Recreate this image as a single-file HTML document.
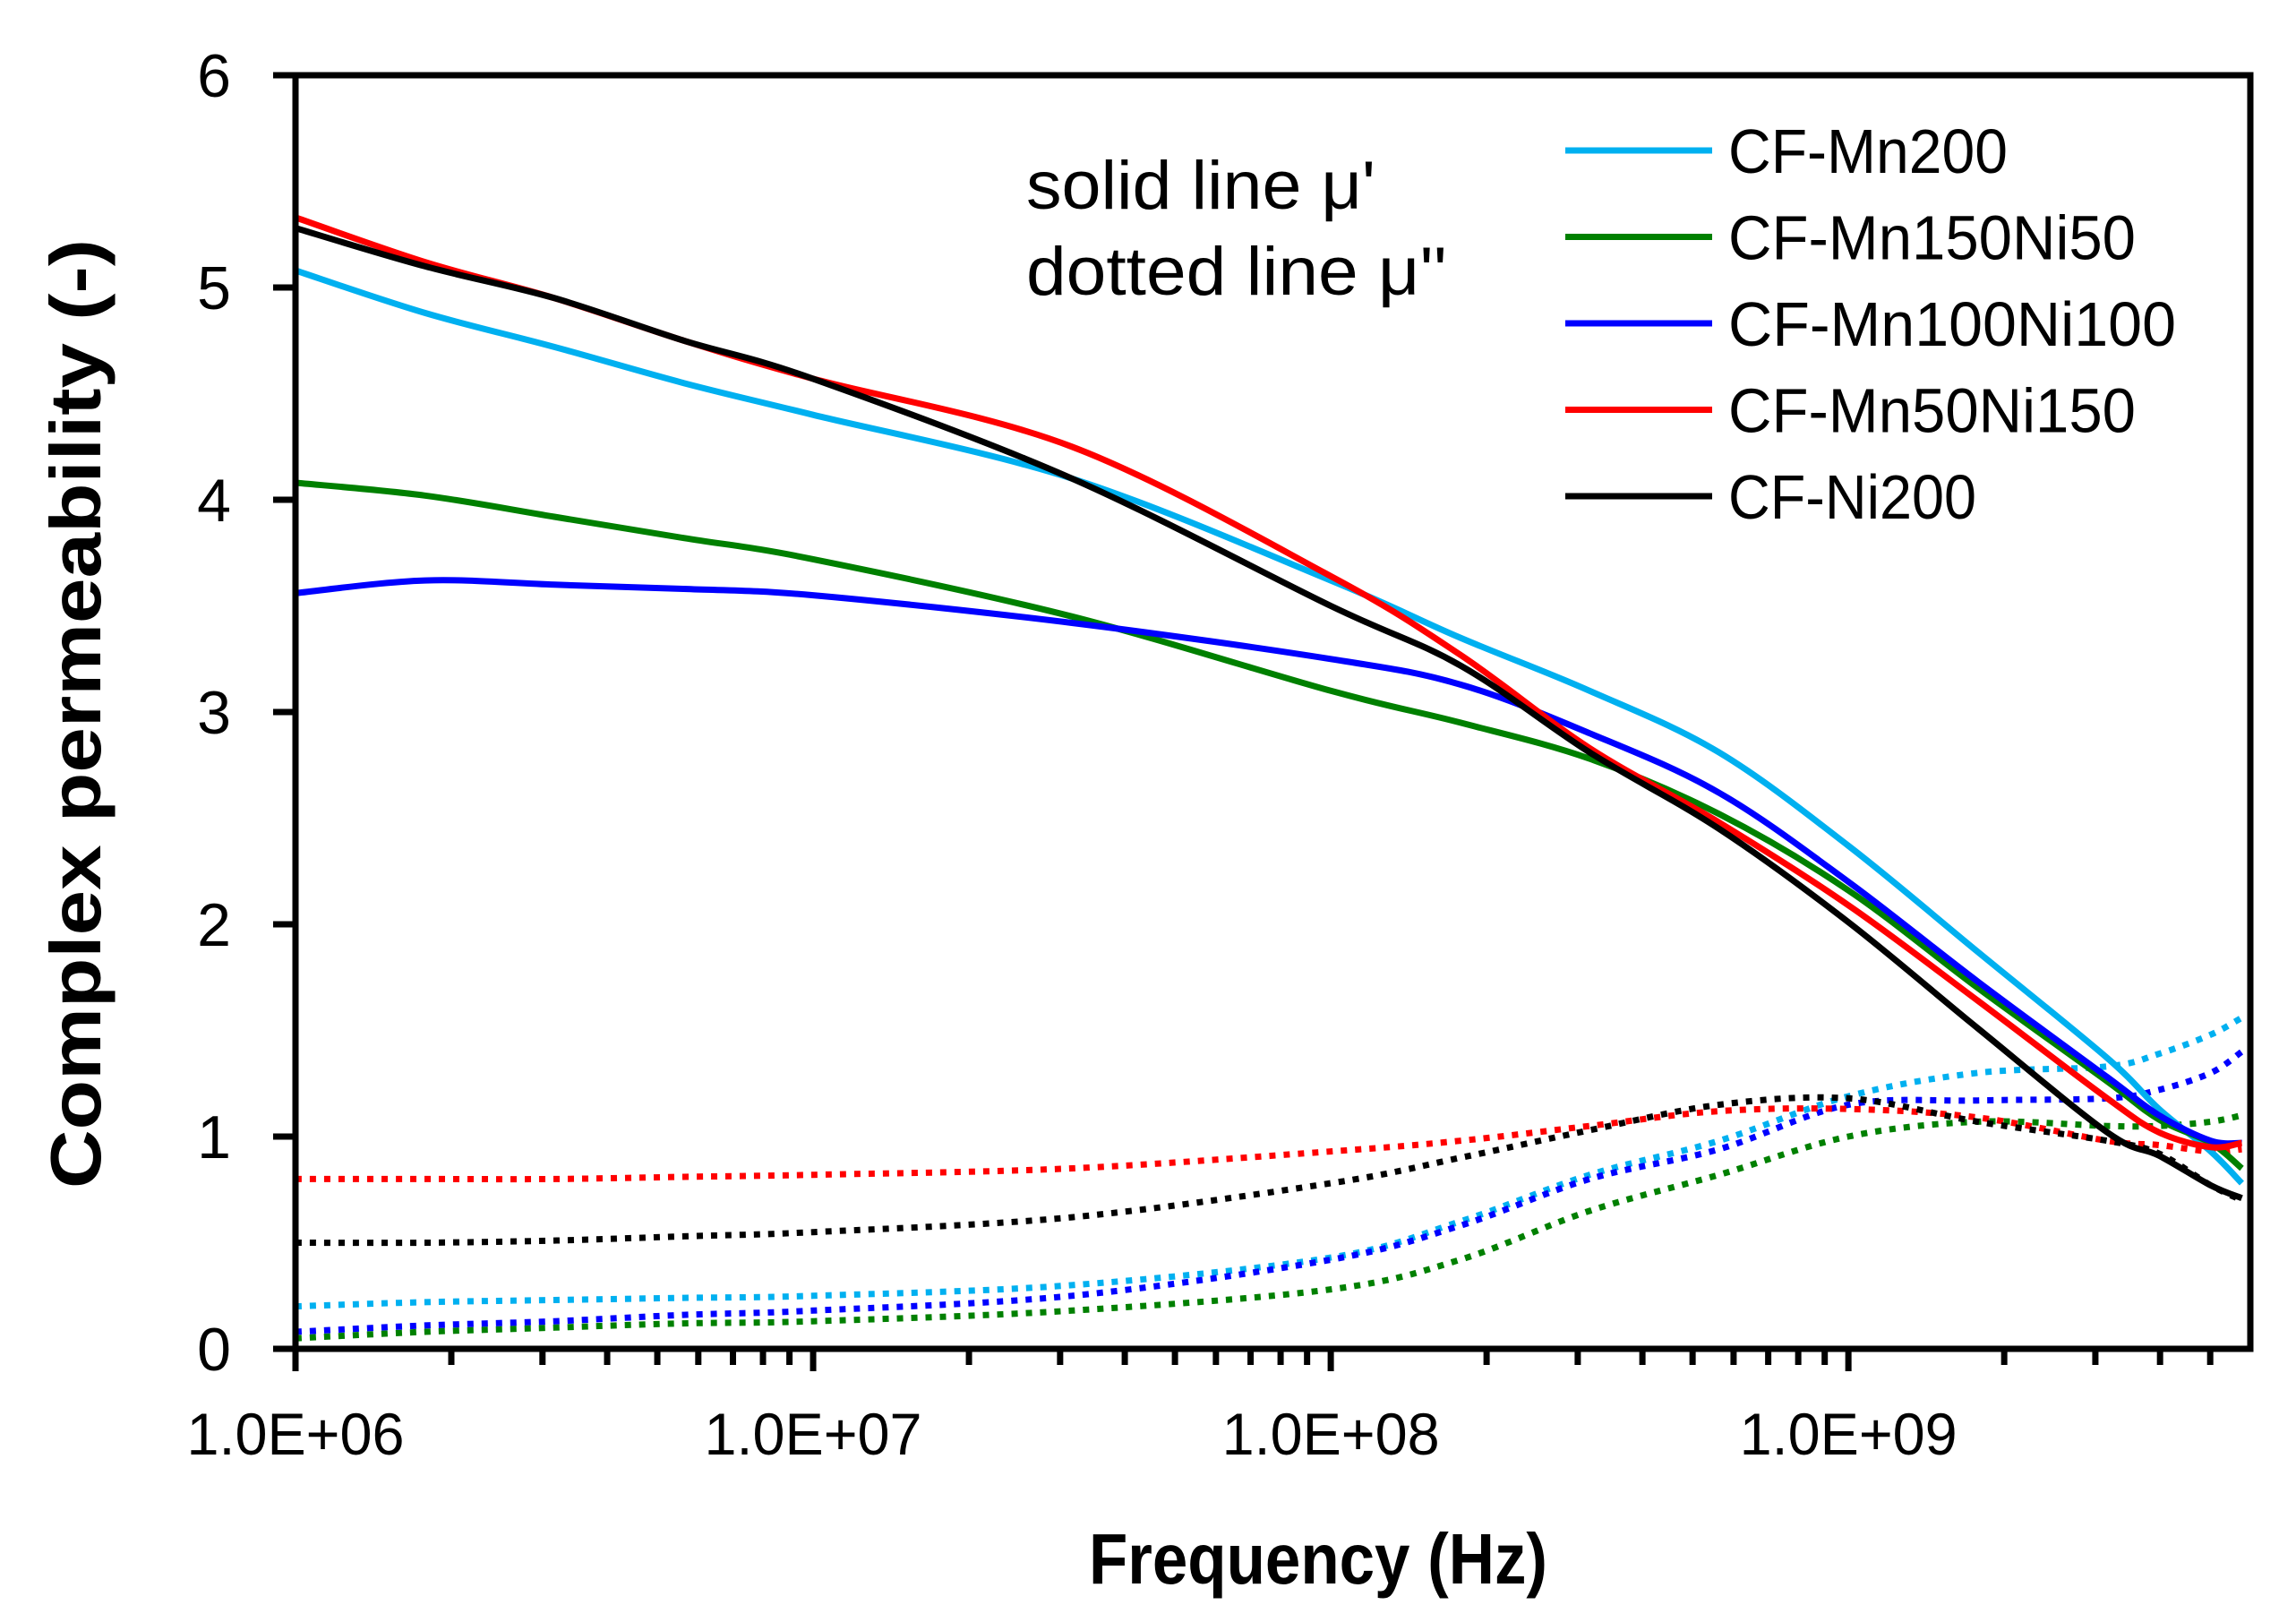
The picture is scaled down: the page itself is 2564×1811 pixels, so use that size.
<!DOCTYPE html>
<html><head><meta charset="utf-8"><style>
html,body{margin:0;padding:0;background:#fff;}
svg{display:block;}
text{font-family:"Liberation Sans",sans-serif;}
</style></head><body>
<svg id="chart" width="2564" height="1811" viewBox="0 0 2564 1811" xmlns="http://www.w3.org/2000/svg">
<g id="series"></g>
<g id="axes"></g>
<text x="1146" y="233" font-size="76" textLength="390" lengthAdjust="spacingAndGlyphs">solid line μ'</text>
<text x="1146" y="329" font-size="76" textLength="470" lengthAdjust="spacingAndGlyphs">dotted line μ''</text>
<g id="legend"></g>
<text x="1472" y="1768" font-size="80" font-weight="bold" text-anchor="middle" textLength="512" lengthAdjust="spacingAndGlyphs">Frequency (Hz)</text>
<text transform="translate(112,797) rotate(-90)" font-size="80" font-weight="bold" text-anchor="middle" textLength="1060" lengthAdjust="spacingAndGlyphs">Complex permeability (-)</text>
</svg>
<script>
// data
const logFreq = [6, 6.25, 6.5, 6.75, 7, 7.5, 8, 8.25, 8.5, 8.75, 9, 9.25, 9.5, 9.6, 9.7, 9.76];
const seriesNames = ["CF-Mn200", "CF-Mn150Ni50", "CF-Mn100Ni100", "CF-Mn50Ni150", "CF-Ni200"];
const seriesColors = ["#00b0f0", "#008000", "#0000ff", "#ff0000", "#000000"];
const muRealMn200 = [5.08, 4.88, 4.72, 4.55, 4.4, 4.1, 3.62, 3.35, 3.1, 2.81, 2.37, 1.87, 1.37, 1.13, 0.93, 0.78];
const muRealMn150Ni50 = [4.08, 4.02, 3.92, 3.82, 3.72, 3.45, 3.1, 2.95, 2.78, 2.52, 2.16, 1.7, 1.26, 1.08, 0.97, 0.85];
const muRealMn100Ni100 = [3.56, 3.62, 3.6, 3.58, 3.55, 3.42, 3.25, 3.13, 2.9, 2.62, 2.2, 1.73, 1.28, 1.1, 0.98, 0.97];
const muRealMn50Ni150 = [5.33, 5.12, 4.95, 4.75, 4.57, 4.25, 3.64, 3.27, 2.83, 2.48, 2.09, 1.64, 1.18, 1.02, 0.95, 0.97];
const muRealNi200 = [5.28, 5.1, 4.95, 4.75, 4.57, 4.1, 3.5, 3.22, 2.81, 2.45, 2.01, 1.51, 1.02, 0.91, 0.77, 0.71];
const muImagMn200 = [0.2, 0.22, 0.23, 0.24, 0.25, 0.3, 0.43, 0.6, 0.82, 0.98, 1.19, 1.3, 1.33, 1.39, 1.48, 1.56];
const muImagMn150Ni50 = [0.05, 0.08, 0.1, 0.12, 0.13, 0.18, 0.28, 0.42, 0.65, 0.82, 1.0, 1.07, 1.05, 1.05, 1.07, 1.1];
const muImagMn100Ni100 = [0.08, 0.11, 0.13, 0.16, 0.18, 0.25, 0.42, 0.58, 0.8, 0.94, 1.15, 1.17, 1.18, 1.22, 1.3, 1.4];
const muImagMn50Ni150 = [0.8, 0.8, 0.8, 0.81, 0.82, 0.85, 0.93, 0.98, 1.05, 1.12, 1.13, 1.09, 0.98, 0.96, 0.93, 0.94];
const muImagNi200 = [0.5, 0.5, 0.51, 0.53, 0.55, 0.62, 0.78, 0.9, 1.03, 1.15, 1.18, 1.07, 0.98, 0.92, 0.77, 0.7];
const yTickLabels = ["0", "1", "2", "3", "4", "5", "6"];
const xTickLabels = ["1.0E+06", "1.0E+07", "1.0E+08", "1.0E+09"];

const NS = "http://www.w3.org/2000/svg";
const X0 = 330, X1 = 2513, Y0 = 1506, Y1 = 84;
const LMIN = 6, LMAX = 9.7765;
function xs(l){ return X0 + (l - LMIN) / (LMAX - LMIN) * (X1 - X0); }
function ys(v){ return Y0 - v / 6 * (Y0 - Y1); }
function mk(tag, attrs, parent){ const e = document.createElementNS(NS, tag); for (const k in attrs) e.setAttribute(k, attrs[k]); parent.appendChild(e); return e; }

const realSets = [muRealMn200, muRealMn150Ni50, muRealMn100Ni100, muRealMn50Ni150, muRealNi200];
const imagSets = [muImagMn200, muImagMn150Ni50, muImagMn100Ni100, muImagMn50Ni150, muImagNi200];
const sg = document.getElementById("series");
function pathFor(arr){
  const pts = arr.map((v, i) => [xs(logFreq[i]), ys(v)]);
  let d = "M" + pts[0][0].toFixed(1) + "," + pts[0][1].toFixed(1);
  for (let i = 0; i < pts.length - 1; i++) {
    const p0 = pts[Math.max(0, i - 1)], p1 = pts[i], p2 = pts[i + 1], p3 = pts[Math.min(pts.length - 1, i + 2)];
    const c1 = [p1[0] + (p2[0] - p0[0]) / 6, p1[1] + (p2[1] - p0[1]) / 6];
    const c2 = [p2[0] - (p3[0] - p1[0]) / 6, p2[1] - (p3[1] - p1[1]) / 6];
    d += " C" + c1[0].toFixed(1) + "," + c1[1].toFixed(1) + " " + c2[0].toFixed(1) + "," + c2[1].toFixed(1) + " " + p2[0].toFixed(1) + "," + p2[1].toFixed(1);
  }
  return d;
}
for (let s = 0; s < 5; s++) {
  const p = mk("path", {d: pathFor(imagSets[s]), fill: "none", stroke: seriesColors[s], "stroke-width": 7, "stroke-dasharray": "7 9"}, sg);
  
  
}
for (let s = 0; s < 5; s++) {
  const p = mk("path", {d: pathFor(realSets[s]), fill: "none", stroke: seriesColors[s], "stroke-width": 7}, sg);
  
  
}

const ag = document.getElementById("axes");
const frame = mk("rect", {x: X0, y: Y1, width: X1 - X0, height: Y0 - Y1, fill: "none", stroke: "#000", "stroke-width": 7}, ag);


yTickLabels.forEach((lab, i) => {
  const y = ys(+lab);
  const t = mk("line", {x1: X0 - 25, x2: X0, y1: y, y2: y, stroke: "#000", "stroke-width": 7}, ag);
  
  
  const tx = mk("text", {x: 258, y: y + 24, "font-size": 68, "text-anchor": "end"}, ag);
  tx.textContent = lab;
  
  
});
for (let d = 6; d <= 9; d++) {
  for (let m = 1; m <= 9; m++) {
    const l = d + Math.log10(m);
    if (l > LMAX + 0.001) continue;
    const x = xs(l);
    const t = mk("line", {x1: x, x2: x, y1: Y0, y2: Y0 + (m === 1 ? 25 : 18), stroke: "#000", "stroke-width": 7}, ag);
    
    
  }
}
xTickLabels.forEach((lab, i) => {
  const tx = mk("text", {x: xs(6 + i), y: 1624, "font-size": 66, "text-anchor": "middle", textLength: 243, lengthAdjust: "spacingAndGlyphs"}, ag);
  tx.textContent = lab;
  
  
});

const lg = document.getElementById("legend");
const legendWidths = [312, 455, 500, 455, 277];
seriesNames.forEach((n, i) => {
  const y = 168 + i * 96.5;
  const ln = mk("line", {x1: 1748, x2: 1912, y1: y, y2: y, stroke: seriesColors[i], "stroke-width": 7}, lg);
  
  
  const tx = mk("text", {x: 1930, y: y + 25, "font-size": 70, textLength: legendWidths[i], lengthAdjust: "spacingAndGlyphs"}, lg);
  tx.textContent = n;
  
  
});
</script>
</body></html>
